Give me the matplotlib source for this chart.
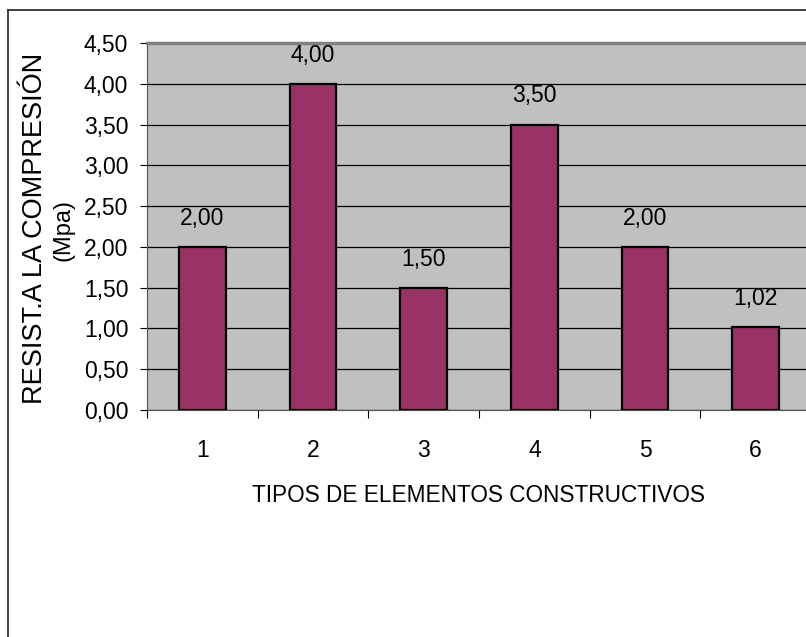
import numpy as np
import matplotlib.pyplot as plt
from matplotlib.lines import Line2D

plt.rcParams['font.family'] = ['Liberation Sans', 'DejaVu Sans']

categorias = ['1', '2', '3', '4', '5', '6']
resistencia = [2.00, 4.00, 1.50, 3.50, 2.00, 1.02]
yticks = [0.0, 0.5, 1.0, 1.5, 2.0, 2.5, 3.0, 3.5, 4.0, 4.5]

def coma(v):
    return f"{v:.2f}".replace('.', ',')

W, H = 806, 637
fig = plt.figure(figsize=(W / 100, H / 100), dpi=100)
ax = fig.add_axes([147/W, 1-410/H, (811-147)/W, (410-43)/H])
ax.set_facecolor('#C0C0C0')

x = np.arange(len(categorias))
ax.set_axisbelow(True)
ax.yaxis.grid(True, color='black', linewidth=0.9)
ax.bar(x, resistencia, width=0.42, color='#993366', edgecolor='black', linewidth=1.6, zorder=3)

for xi, v in zip(x, resistencia):
    ax.text(xi, v + 0.21, coma(v), ha='center', va='bottom', fontsize=16.5)

ax.set_xlim(-0.5, len(categorias) - 0.5)
ax.set_ylim(0, 4.5)
ax.set_yticks(yticks)
ax.set_yticklabels([coma(v) for v in yticks], fontsize=16.5)
ax.set_xticks(x)
ax.set_xticklabels(categorias, fontsize=16.5)
ax.set_xticks(np.arange(len(categorias)) - 0.5, minor=True)
ax.tick_params(axis='x', which='major', length=0, pad=21)
ax.tick_params(axis='x', which='minor', length=5.5, width=0.8, direction='out')
ax.tick_params(axis='y', length=5, width=0.8, direction='out', pad=8.5)

ax.spines['right'].set_visible(False)
ax.spines['top'].set_color('#808080')
ax.spines['top'].set_linewidth(2.5)
ax.spines['left'].set_color('#505050')
ax.spines['bottom'].set_color('#505050')

ax.set_xlabel('TIPOS DE ELEMENTOS CONSTRUCTIVOS', fontsize=16.3, labelpad=16)
fig.text(42/W, 1-228/H, 'RESIST.A LA COMPRESIÓN', rotation=90, rotation_mode='anchor',
         ha='center', va='baseline', fontsize=19.5)
fig.text(69/W, 1-230/H, '(Mpa)', rotation=90, rotation_mode='anchor',
         ha='center', va='baseline', fontsize=17)

# borde del gráfico
fig.add_artist(Line2D([8/W, 8/W], [0, 1-10/H], color='#333333', linewidth=1.3, transform=fig.transFigure))
fig.add_artist(Line2D([8/W, 1], [1-10/H, 1-10/H], color='#333333', linewidth=1.3, transform=fig.transFigure))

fig.savefig('out.png', dpi=100)
